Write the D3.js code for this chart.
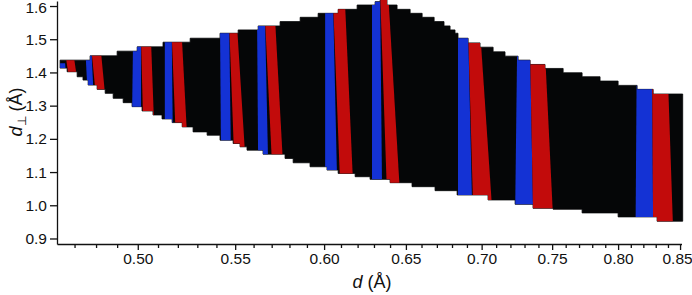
<!DOCTYPE html>
<html>
<head>
<meta charset="utf-8">
<script src="https://cdn.jsdelivr.net/npm/d3@7"></script>
<style>
  body { margin: 0; background: #fff; }
  svg { display: block; font-family: "Liberation Sans", Arial, sans-serif; }
</style>
</head>
<body>
<svg width="692" height="295"></svg>
<script>
const svg = d3.select("svg");

// tick values
const xMajor = [0.50, 0.55, 0.60, 0.65, 0.70, 0.75, 0.80, 0.85];
const xMinor = [0.47, 0.48, 0.49, 0.51, 0.52, 0.53, 0.54, 0.56, 0.57, 0.58, 0.59,
  0.61, 0.62, 0.63, 0.64, 0.66, 0.67, 0.68, 0.69, 0.71, 0.72, 0.73, 0.74,
  0.76, 0.77, 0.78, 0.79, 0.81, 0.82, 0.83, 0.84];
const yTicks = [0.9, 1.0, 1.1, 1.2, 1.3, 1.4, 1.5, 1.6];

// upper edge of the point cloud: step start d -> d_perp
const topD = [0.4634, 0.4772, 0.4900, 0.4997, 0.5125, 0.5263, 0.5419, 0.5516, 0.5625,
  0.5747, 0.5861, 0.5965, 0.6083, 0.6197, 0.6307, 0.6338, 0.6381, 0.6444, 0.6527,
  0.6604, 0.6682, 0.6747, 0.6787, 0.6820, 0.6840, 0.6908, 0.6989, 0.7079, 0.7162,
  0.7254, 0.7340, 0.7448, 0.7581, 0.7723, 0.7860, 0.8000, 0.8150, 0.8279];
const topDp = [1.437, 1.450, 1.464, 1.477, 1.491, 1.503, 1.518, 1.528, 1.540,
  1.553, 1.566, 1.578, 1.590, 1.603, 1.613, 1.618, 1.603, 1.590, 1.578,
  1.566, 1.553, 1.540, 1.528, 1.518, 1.503, 1.489, 1.476, 1.462, 1.449,
  1.437, 1.424, 1.412, 1.399, 1.387, 1.374, 1.361, 1.349, 1.335];

// lower edge of the point cloud
const botD = [0.4634, 0.4666, 0.4712, 0.4739, 0.4763, 0.4805, 0.4843, 0.4881, 0.4929,
  0.4972, 0.5021, 0.5075, 0.5120, 0.5171, 0.5222, 0.5278, 0.5351, 0.5419, 0.5489,
  0.5526, 0.5564, 0.5652, 0.5775, 0.5821, 0.5918, 0.6017, 0.6083, 0.6185, 0.6276,
  0.6400, 0.6539, 0.6688, 0.6834, 0.7044, 0.7233, 0.7361, 0.7507, 0.7723, 0.8000, 0.8311];
const botDp = [1.413, 1.402, 1.387, 1.377, 1.362, 1.349, 1.337, 1.322, 1.309,
  1.297, 1.284, 1.272, 1.260, 1.249, 1.236, 1.221, 1.211, 1.196, 1.186,
  1.176, 1.166, 1.154, 1.141, 1.128, 1.116, 1.106, 1.096, 1.086, 1.078,
  1.068, 1.056, 1.044, 1.031, 1.016, 1.003, 0.991, 0.988, 0.977, 0.965, 0.952];

const dEnd = 0.8522;

// coloured strips: [d top-left, d top-right, d bottom-left, d bottom-right, d_perp top, d_perp bottom]
const blueBands = [
  [0.4615, 0.4657, 0.4615, 0.4662, 1.428, 1.38],
  [0.4750, 0.4778, 0.4760, 0.4788, 1.47, 1.34],
  [0.4977, 0.5016, 0.4972, 0.5016, 1.50, 1.27],
  [0.5134, 0.5169, 0.5134, 0.5174, 1.51, 1.23],
  [0.5419, 0.5468, 0.5424, 0.5477, 1.54, 1.16],
  [0.5619, 0.5663, 0.5625, 0.5680, 1.56, 1.13],
  [0.6006, 0.6053, 0.6006, 0.6077, 1.61, 1.07],
  [0.6288, 0.6338, 0.6288, 0.6350, 1.64, 1.05],
  [0.6840, 0.6908, 0.6840, 0.6935, 1.53, 1.00],
  [0.7247, 0.7340, 0.7233, 0.7362, 1.46, 0.97],
  [0.8146, 0.8271, 0.8138, 0.8279, 1.37, 0.94]
];
const redBands = [
  [0.4657, 0.4694, 0.4675, 0.4712, 1.46, 1.38],
  [0.4778, 0.4822, 0.4802, 0.4846, 1.47, 1.31],
  [0.5016, 0.5065, 0.5026, 0.5080, 1.50, 1.25],
  [0.5169, 0.5220, 0.5189, 0.5247, 1.51, 1.21],
  [0.5468, 0.5510, 0.5494, 0.5554, 1.54, 1.15],
  [0.5663, 0.5719, 0.5702, 0.5764, 1.56, 1.12],
  [0.6053, 0.6124, 0.6095, 0.6173, 1.61, 1.06],
  [0.6338, 0.6388, 0.6381, 0.6463, 1.64, 1.03],
  [0.6908, 0.6989, 0.6942, 0.7072, 1.53, 0.99],
  [0.7340, 0.7448, 0.7362, 0.7507, 1.46, 0.96],
  [0.8271, 0.8401, 0.8279, 0.8442, 1.37, 0.93]
];

const x = d3.scaleLog().domain([0.4620, 0.8512]).range([57, 681.5]);
const y = d3.scaleLinear().domain([0.8834, 1.6151]).range([244, 1]);

// build the stepped outline
const pts = [];
topD.forEach((d, i) => {
  const next = i < topD.length - 1 ? topD[i + 1] : dEnd;
  pts.push([d, topDp[i]], [next, topDp[i]]);
});
for (let i = botD.length - 1; i >= 0; i--) {
  const next = i < botD.length - 1 ? botD[i + 1] : dEnd;
  pts.push([next, botDp[i]], [botD[i], botDp[i]]);
}
const line = d3.line().x((d) => x(d[0])).y((d) => y(d[1]));
const regionPath = line(pts) + "Z";

svg.append("clipPath").attr("id", "region")
  .append("path").attr("d", regionPath);

svg.append("path")
  .attr("d", regionPath)
  .attr("fill", "#050607")
  .attr("stroke", "#050607")
  .attr("stroke-width", 0.8);

function bandPath(b) {
  return line([[b[0], b[4]], [b[1], b[4]], [b[3], b[5]], [b[2], b[5]]]) + "Z";
}

const bands = svg.append("g").attr("clip-path", "url(#region)");
bands.selectAll(".blue").data(blueBands).join("path")
  .attr("class", "blue")
  .attr("d", bandPath)
  .attr("fill", "#1432d4");
bands.selectAll(".red").data(redBands).join("path")
  .attr("class", "red")
  .attr("d", bandPath)
  .attr("fill", "#c20b0b");

// axes
svg.append("g")
  .attr("transform", "translate(0,244)")
  .call(d3.axisBottom(x).tickValues(xMajor).tickFormat(d3.format(".2f")).tickSize(6).tickSizeOuter(0).tickPadding(3));
svg.append("g")
  .attr("transform", "translate(0,244)")
  .call(d3.axisBottom(x).tickValues(xMinor).tickFormat("").tickSize(4).tickSizeOuter(0))
  .select(".domain").remove();

svg.append("g")
  .attr("transform", "translate(57,0)")
  .call(d3.axisLeft(y).tickValues(yTicks).tickFormat(d3.format(".1f")).tickSize(7).tickSizeOuter(0).tickPadding(3));

svg.selectAll(".domain, .tick line").attr("stroke", "#111").attr("stroke-width", 1.3);
svg.selectAll(".tick text").attr("font-size", 15.5).attr("fill", "#111")
  .attr("font-family", "'Liberation Sans', Arial, sans-serif");
// keep the last x label inside the frame
svg.selectAll(".tick text").filter((d) => d === 0.85).attr("dx", -3);
svg.selectAll(".tick text").filter((d) => d === 1.6).attr("dy", "0.4em");

// axis titles
const xt = svg.append("text")
  .attr("x", 372).attr("y", 288)
  .attr("text-anchor", "middle")
  .attr("font-size", 18).attr("fill", "#111");
xt.append("tspan").attr("font-style", "italic").text("d");
xt.append("tspan").text(" (Å)");

const yt = svg.append("text")
  .attr("transform", "translate(22,112) rotate(-90)")
  .attr("text-anchor", "middle")
  .attr("font-size", 18).attr("fill", "#111");
yt.append("tspan").attr("font-style", "italic").text("d");
yt.append("tspan").attr("font-size", 12).attr("dy", 4).text("⊥");
yt.append("tspan").attr("dy", -4).text(" (Å)");
</script>
</body>
</html>
